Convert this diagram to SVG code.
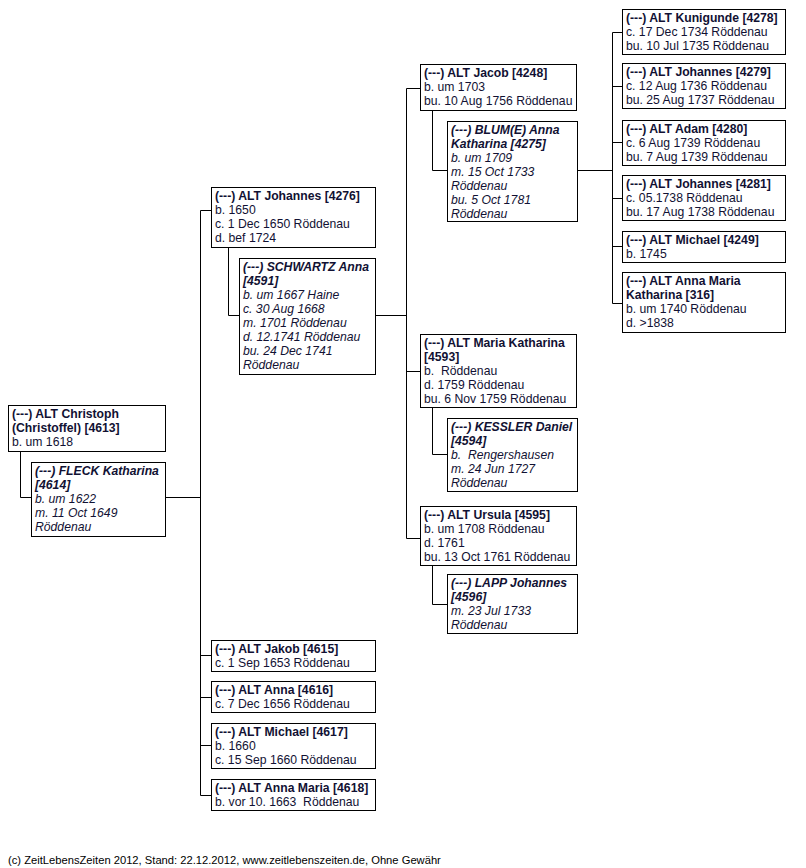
<svg xmlns="http://www.w3.org/2000/svg" width="806" height="868" viewBox="0 0 806 868">
<style>
.b{fill:#fff;stroke:#000;stroke-width:1}
text{font-family:"Liberation Sans",Arial,sans-serif;font-size:12.2px;fill:#111133;white-space:pre}
.t{font-weight:bold}
.s{font-style:italic}
.c{fill:none;stroke:#000;stroke-width:1}
.f{font-size:11.2px;fill:#000}
</style>
<rect width="806" height="868" fill="#fff"/>
<g id="connectors" class="c">
<path d="M20.5,451V497.5H31"/>
<path d="M165,497.5H200.5"/>
<path d="M200.5,210.5V795.5"/>
<path d="M200.5,210.5H211M200.5,655.5H211M200.5,697.5H211M200.5,745.5H211M200.5,795.5H211"/>
<path d="M228.5,247V315.5H239"/>
<path d="M375,315.5H406.5"/>
<path d="M406.5,88.5V538.5"/>
<path d="M406.5,88.5H420M406.5,371.5H420M406.5,538.5H420"/>
<path d="M432.5,110V170.5H447"/>
<path d="M577,170.5H612.5"/>
<path d="M612.5,32.5V303.5"/>
<path d="M612.5,32.5H622M612.5,86.5H622M612.5,142.5H622M612.5,198.5H622M612.5,246.5H622M612.5,303.5H622"/>
<path d="M432.5,408V454.5H447"/>
<path d="M432.5,566V604.5H447"/>
</g>
<g id="n4613"><rect class="b" x="8.5" y="405.5" width="157" height="46"/>
<text x="12" y="418"><tspan class="t">(---) ALT Christoph</tspan><tspan class="t" x="12" dy="14">(Christoffel) [4613]</tspan><tspan x="12" dy="14">b. um 1618</tspan></text></g>
<g id="n4614"><rect class="b" x="31.5" y="462.5" width="134" height="74"/>
<text x="35" y="475" class="s"><tspan class="t">(---) FLECK Katharina</tspan><tspan class="t" x="35" dy="14">[4614]</tspan><tspan x="35" dy="14">b. um 1622</tspan><tspan x="35" dy="14">m. 11 Oct 1649</tspan><tspan x="35" dy="14">Röddenau</tspan></text></g>
<g id="n4276"><rect class="b" x="211.5" y="187.5" width="164" height="60"/>
<text x="215" y="200"><tspan class="t">(---) ALT Johannes [4276]</tspan><tspan x="215" dy="14">b. 1650</tspan><tspan x="215" dy="14">c. 1 Dec 1650 Röddenau</tspan><tspan x="215" dy="14">d. bef 1724</tspan></text></g>
<g id="n4591"><rect class="b" x="239.5" y="258.5" width="136" height="116"/>
<text x="243" y="271" class="s"><tspan class="t">(---) SCHWARTZ Anna</tspan><tspan class="t" x="243" dy="14">[4591]</tspan><tspan x="243" dy="14">b. um 1667 Haine</tspan><tspan x="243" dy="14">c. 30 Aug 1668</tspan><tspan x="243" dy="14">m. 1701 Röddenau</tspan><tspan x="243" dy="14">d. 12.1741 Röddenau</tspan><tspan x="243" dy="14">bu. 24 Dec 1741</tspan><tspan x="243" dy="14">Röddenau</tspan></text></g>
<g id="n4248"><rect class="b" x="420.5" y="64.5" width="156" height="46"/>
<text x="424" y="77"><tspan class="t">(---) ALT Jacob [4248]</tspan><tspan x="424" dy="14">b. um 1703</tspan><tspan x="424" dy="14">bu. 10 Aug 1756 Röddenau</tspan></text></g>
<g id="n4275"><rect class="b" x="447.5" y="121.5" width="130" height="100"/>
<text x="451" y="134" class="s"><tspan class="t">(---) BLUM(E) Anna</tspan><tspan class="t" x="451" dy="14">Katharina [4275]</tspan><tspan x="451" dy="14">b. um 1709</tspan><tspan x="451" dy="14">m. 15 Oct 1733</tspan><tspan x="451" dy="14">Röddenau</tspan><tspan x="451" dy="14">bu. 5 Oct 1781</tspan><tspan x="451" dy="14">Röddenau</tspan></text></g>
<g id="n4278"><rect class="b" x="622.5" y="9.5" width="163" height="45"/>
<text x="626" y="22"><tspan class="t">(---) ALT Kunigunde [4278]</tspan><tspan x="626" dy="14">c. 17 Dec 1734 Röddenau</tspan><tspan x="626" dy="14">bu. 10 Jul 1735 Röddenau</tspan></text></g>
<g id="n4279"><rect class="b" x="622.5" y="63.5" width="163" height="45"/>
<text x="626" y="76"><tspan class="t">(---) ALT Johannes [4279]</tspan><tspan x="626" dy="14">c. 12 Aug 1736 Röddenau</tspan><tspan x="626" dy="14">bu. 25 Aug 1737 Röddenau</tspan></text></g>
<g id="n4280"><rect class="b" x="622.5" y="120.5" width="163" height="45"/>
<text x="626" y="133"><tspan class="t">(---) ALT Adam [4280]</tspan><tspan x="626" dy="14">c. 6 Aug 1739 Röddenau</tspan><tspan x="626" dy="14">bu. 7 Aug 1739 Röddenau</tspan></text></g>
<g id="n4281"><rect class="b" x="622.5" y="175.5" width="163" height="45"/>
<text x="626" y="188"><tspan class="t">(---) ALT Johannes [4281]</tspan><tspan x="626" dy="14">c. 05.1738 Röddenau</tspan><tspan x="626" dy="14">bu. 17 Aug 1738 Röddenau</tspan></text></g>
<g id="n4249"><rect class="b" x="622.5" y="231.5" width="163" height="31"/>
<text x="626" y="244"><tspan class="t">(---) ALT Michael [4249]</tspan><tspan x="626" dy="14">b. 1745</tspan></text></g>
<g id="n316"><rect class="b" x="622.5" y="272.5" width="163" height="60"/>
<text x="626" y="285"><tspan class="t">(---) ALT Anna Maria</tspan><tspan class="t" x="626" dy="14">Katharina [316]</tspan><tspan x="626" dy="14">b. um 1740 Röddenau</tspan><tspan x="626" dy="14">d. &gt;1838</tspan></text></g>
<g id="n4593"><rect class="b" x="420.5" y="334.5" width="156" height="73"/>
<text x="424" y="347"><tspan class="t">(---) ALT Maria Katharina</tspan><tspan class="t" x="424" dy="14">[4593]</tspan><tspan x="424" dy="14">b.  Röddenau</tspan><tspan x="424" dy="14">d. 1759 Röddenau</tspan><tspan x="424" dy="14">bu. 6 Nov 1759 Röddenau</tspan></text></g>
<g id="n4594"><rect class="b" x="447.5" y="418.5" width="130" height="73"/>
<text x="451" y="431" class="s"><tspan class="t">(---) KESSLER Daniel</tspan><tspan class="t" x="451" dy="14">[4594]</tspan><tspan x="451" dy="14">b.  Rengershausen</tspan><tspan x="451" dy="14">m. 24 Jun 1727</tspan><tspan x="451" dy="14">Röddenau</tspan></text></g>
<g id="n4595"><rect class="b" x="420.5" y="506.5" width="156" height="59"/>
<text x="424" y="519"><tspan class="t">(---) ALT Ursula [4595]</tspan><tspan x="424" dy="14">b. um 1708 Röddenau</tspan><tspan x="424" dy="14">d. 1761</tspan><tspan x="424" dy="14">bu. 13 Oct 1761 Röddenau</tspan></text></g>
<g id="n4596"><rect class="b" x="447.5" y="574.5" width="130" height="59"/>
<text x="451" y="587" class="s"><tspan class="t">(---) LAPP Johannes</tspan><tspan class="t" x="451" dy="14">[4596]</tspan><tspan x="451" dy="14">m. 23 Jul 1733</tspan><tspan x="451" dy="14">Röddenau</tspan></text></g>
<g id="n4615"><rect class="b" x="211.5" y="640.5" width="164" height="31"/>
<text x="215" y="653"><tspan class="t">(---) ALT Jakob [4615]</tspan><tspan x="215" dy="14">c. 1 Sep 1653 Röddenau</tspan></text></g>
<g id="n4616"><rect class="b" x="211.5" y="681.5" width="164" height="31"/>
<text x="215" y="694"><tspan class="t">(---) ALT Anna [4616]</tspan><tspan x="215" dy="14">c. 7 Dec 1656 Röddenau</tspan></text></g>
<g id="n4617"><rect class="b" x="211.5" y="723.5" width="164" height="45"/>
<text x="215" y="736"><tspan class="t">(---) ALT Michael [4617]</tspan><tspan x="215" dy="14">b. 1660</tspan><tspan x="215" dy="14">c. 15 Sep 1660 Röddenau</tspan></text></g>
<g id="n4618"><rect class="b" x="211.5" y="779.5" width="164" height="31"/>
<text x="215" y="792"><tspan class="t">(---) ALT Anna Maria [4618]</tspan><tspan x="215" dy="14">b. vor 10. 1663  Röddenau</tspan></text></g>
<text class="f" x="8" y="864">(c) ZeitLebensZeiten 2012, Stand: 22.12.2012, www.zeitlebenszeiten.de, Ohne Gewähr</text>
</svg>
